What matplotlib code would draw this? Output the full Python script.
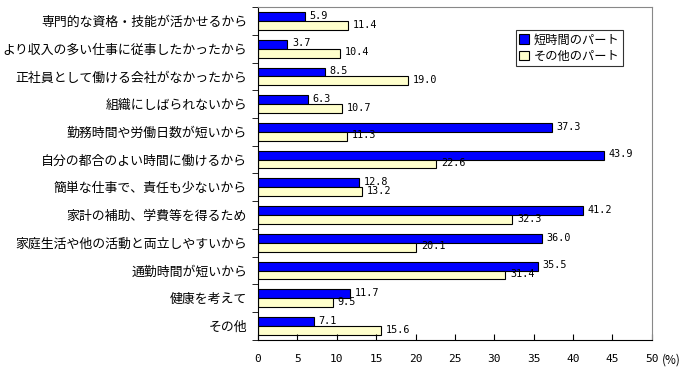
import numpy as np
import matplotlib
matplotlib.use("Agg")
from matplotlib import pyplot as plt
from matplotlib.ticker import FixedLocator

plt.rcParams['font.family'] = ['Noto Sans CJK JP', 'DejaVu Sans']

categories = ["専門的な資格・技能が活かせるから",
              "より収入の多い仕事に従事したかったから",
              "正社員として働ける会社がなかったから",
              "組織にしばられないから",
              "勤務時間や労働日数が短いから",
              "自分の都合のよい時間に働けるから",
              "簡単な仕事で、責任も少ないから",
              "家計の補助、学費等を得るため",
              "家庭生活や他の活動と両立しやすいから",
              "通勤時間が短いから",
              "健康を考えて",
              "その他"]
short_part = [5.9, 3.7, 8.5, 6.3, 37.3, 43.9, 12.8, 41.2, 36.0, 35.5, 11.7, 7.1]
other_part = [11.4, 10.4, 19.0, 10.7, 11.3, 22.6, 13.2, 32.3, 20.1, 31.4, 9.5, 15.6]
series_names = ["短時間のパート", "その他のパート"]

fig = plt.figure(figsize=(6.92, 3.71), dpi=100)
ax = fig.add_axes([0.373, 0.084, 0.569, 0.897])

y = np.arange(len(categories))
h = 0.32
b1 = ax.barh(y - h / 2, short_part, height=h, color='#0000ff', edgecolor='black', linewidth=0.8,
             label=series_names[0])
b2 = ax.barh(y + h / 2, other_part, height=h, color='#ffffcc', edgecolor='black', linewidth=0.8,
             label=series_names[1])

# value labels
for bars, vals in ((b1, short_part), (b2, other_part)):
  for bar, v in zip(bars, vals):
    ax.text(v + 0.6, bar.get_y() + bar.get_height() / 2 - 0.03, f"{v:.1f}",
            va='center', ha='left', fontsize=7.3, family='DejaVu Sans Mono')

ax.set_xlim(0, 50)
ax.set_ylim(len(categories) - 0.5, -0.5)
ax.set_xticks(np.arange(0, 51, 5))
ax.tick_params(axis='x', direction='in', length=4, pad=10, labelsize=8)
for lab in ax.get_xticklabels():
  lab.set_family('DejaVu Sans Mono')

ax.set_yticks(y)
ax.set_yticklabels(categories, fontsize=9.3)
ax.tick_params(axis='y', length=0, pad=8)
ax.yaxis.set_minor_locator(FixedLocator(np.arange(-0.5, len(categories), 1)))
ax.tick_params(axis='y', which='minor', direction='out', length=4)

ax.spines['top'].set_color('#888888')
ax.spines['right'].set_color('#888888')

ax.text(1.025, -0.06, "(%)", transform=ax.transAxes, fontsize=8.5, va='center', ha='left')

leg = ax.legend(loc='upper left', bbox_to_anchor=(0.655, 0.93), fontsize=8.8, frameon=True,
                fancybox=False, edgecolor='black', handlelength=0.8, handleheight=0.8,
                handletextpad=0.4, borderpad=0.25, labelspacing=0.25, borderaxespad=0)
leg.get_frame().set_linewidth(0.8)

plt.savefig('out.png', dpi=100)
